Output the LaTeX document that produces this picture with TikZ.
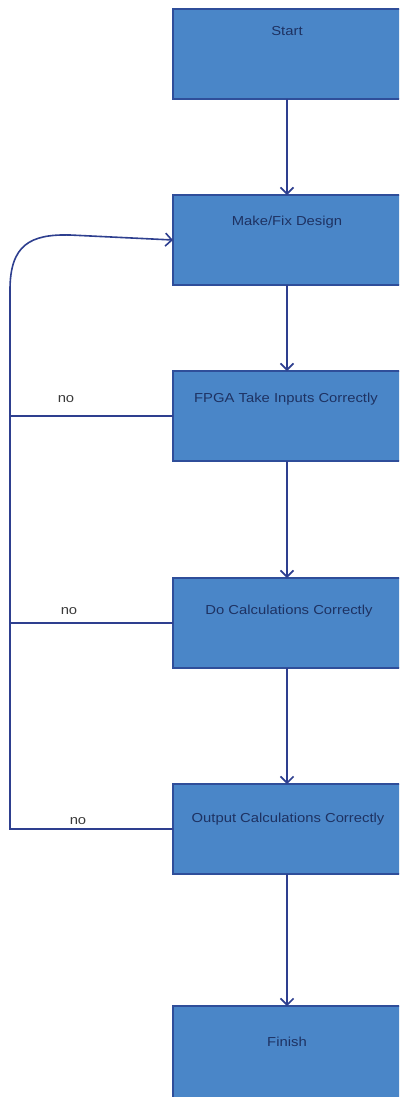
\documentclass[tikz,border=0pt]{standalone}
\usepackage{fontspec}
\setmainfont{Liberation Sans}
\newfontfamily\boxfont[FakeStretch=1.14]{Liberation Sans}
\usetikzlibrary{arrows.meta}
\definecolor{boxfill}{HTML}{4A86C8}
\definecolor{boxedge}{HTML}{2F4E9A}
\definecolor{wire}{HTML}{2E3F8F}
\definecolor{boxtext}{HTML}{1E3262}
\definecolor{notext}{HTML}{3A3A3A}
\begin{document}
\begin{tikzpicture}[x=1bp,y=-1bp,
  stepbox/.style={draw=boxedge, line width=1.5bp, fill=boxfill,
    minimum width=236bp, minimum height=90bp, inner sep=0pt, outer sep=0pt},
  boxlabel/.style={text=boxtext, font=\boxfont\fontsize{13bp}{15bp}\selectfont, inner sep=0pt},
  nolabel/.style={text=notext, font=\boxfont\fontsize{13bp}{15bp}\selectfont, inner sep=0pt},
  flow/.style={draw=wire, line width=1.6bp,
    -{Straight Barb[length=6.5bp,width=13bp,line width=1.6bp]}},
  back/.style={draw=wire, line width=1.6bp}]
\useasboundingbox (0,0) rectangle (399,1097);
\clip (0,0) rectangle (399,1097);

% process boxes (they run off the right and bottom edges)
\node[stepbox] (start)  at (291,54)  {};
\node[stepbox] (design) at (291,240) {};
\node[stepbox] (inputs) at (291,416) {};
\node[stepbox] (calc)   at (291,623) {};
\node[stepbox] (output) at (291,829) {};
\node[stepbox, minimum height=94bp] (finish) at (291,1053) {};

% box captions, set near the top of each box
\node[boxlabel] (start-t)  at (287,31)  {Start};
\node[boxlabel] (design-t) at (287,222) {Make/Fix Design};
\node[boxlabel] (inputs-t) at (286,399) {FPGA Take Inputs Correctly};
\node[boxlabel] (calc-t)   at (289,611) {Do Calculations Correctly};
\node[boxlabel] (output-t) at (288,819) {Output Calculations Correctly};
\node[boxlabel] (finish-t) at (287,1042) {Finish};

% main flow, down the middle of the visible box width
\coordinate (mid) at (287,0);
\draw[flow] (start.south -| mid)  -- (design.north -| mid);
\draw[flow] (design.south -| mid) -- (inputs.north -| mid);
\draw[flow] (inputs.south -| mid) -- (calc.north -| mid);
\draw[flow] (calc.south -| mid)   -- (output.north -| mid);
\draw[flow] (output.south -| mid) -- (finish.north -| mid);

% "no" return rail back to the design step
\coordinate (rail-bottom) at (10,829);
\coordinate (rail-top)    at (10,290);
\coordinate (bend)        at (70,235);
\draw[flow, line join=miter] (output.west) -- (rail-bottom) -- (rail-top)
  .. controls (10,245) and (30,234) .. (bend) -- (design.west);
\draw[back] (inputs.west) -- (inputs.west -| rail-bottom);
\draw[back] (calc.west)   -- (calc.west -| rail-bottom);

% "no" labels
\node[nolabel] (no-inputs) at (66,399) {no};
\node[nolabel] (no-calc)   at (69,611) {no};
\node[nolabel] (no-output) at (78,821) {no};
\end{tikzpicture}
\end{document}
